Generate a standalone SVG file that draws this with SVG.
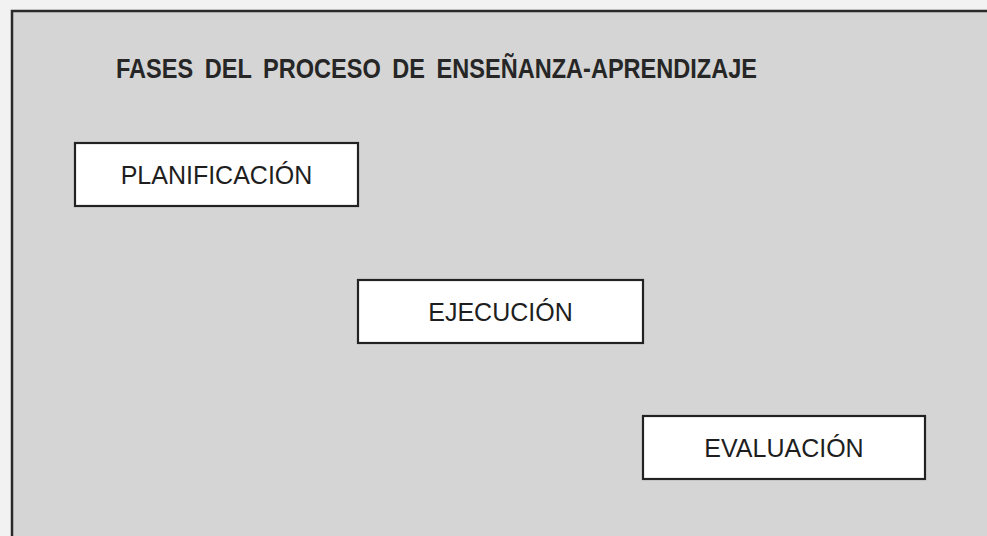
<svg xmlns="http://www.w3.org/2000/svg" width="987" height="536" viewBox="0 0 987 536">
<style>
.box{fill:#ffffff;stroke:#222222;stroke-width:2.2}
.lbl{font-family:"Liberation Sans",Arial,sans-serif;font-size:25px;fill:#1e1e1e;text-anchor:middle}
.title{font-family:"Liberation Sans",Arial,sans-serif;font-size:28px;font-weight:bold;fill:#262626;word-spacing:6px}
</style>
<rect x="0" y="0" width="987" height="536" fill="#f2f2f2"/>
<rect x="12" y="11" width="975" height="525" fill="#d5d5d5"/>
<path d="M12 536 V11 H987" fill="none" stroke="#2a2a2a" stroke-width="2.5"/>
<text id="title" class="title" x="116" y="78" textLength="641" lengthAdjust="spacingAndGlyphs">FASES DEL PROCESO DE ENSEÑANZA-APRENDIZAJE</text>
<g id="planificacion">
<rect class="box" x="75" y="143" width="283" height="63"/>
<text class="lbl" x="216.5" y="184">PLANIFICACIÓN</text>
</g>
<g id="ejecucion">
<rect class="box" x="358" y="280" width="285" height="63"/>
<text class="lbl" x="500.5" y="321">EJECUCIÓN</text>
</g>
<g id="evaluacion">
<rect class="box" x="643" y="416" width="282" height="63"/>
<text class="lbl" x="784" y="457">EVALUACIÓN</text>
</g>
<g id="connectors"></g>
</svg>
